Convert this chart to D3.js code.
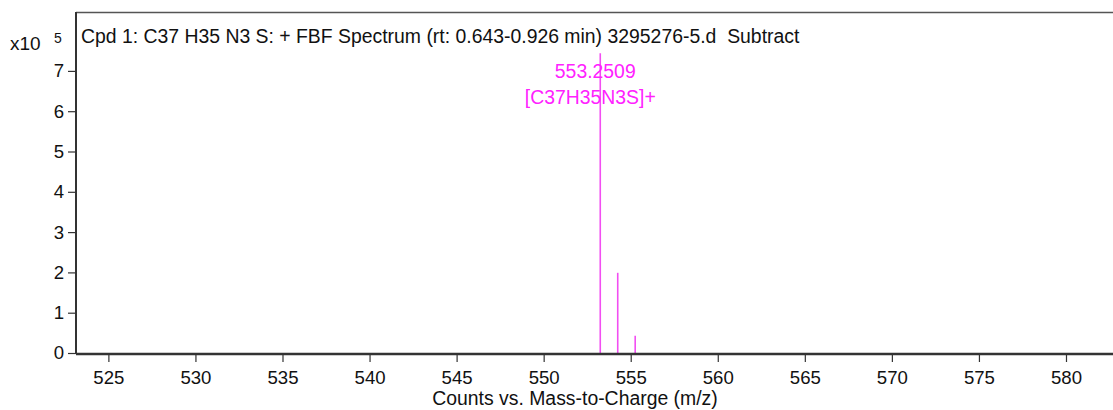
<!DOCTYPE html>
<html>
<head>
<meta charset="utf-8">
<script src="https://cdn.jsdelivr.net/npm/d3@7/dist/d3.min.js"></script>
<style>
  html, body { margin: 0; padding: 0; background: #fff; }
  svg { display: block; font-family: "Liberation Sans", Arial, sans-serif; }
</style>
</head>
<body>
<svg id="chart" width="1113" height="410"></svg>
<script>
// Spectrum peaks (m/z, counts in units of 10^5)
const peakMz = [553.2509, 554.254, 555.257];
const peakCounts = [7.44, 1.99, 0.43];
const xTicks = [525, 530, 535, 540, 545, 550, 555, 560, 565, 570, 575, 580];
const yTicks = [0, 1, 2, 3, 4, 5, 6, 7];
const title = "Cpd 1: C37 H35 N3 S: + FBF Spectrum (rt: 0.643-0.926 min) 3295276-5.d  Subtract";
const peakLabels = ["553.2509", "[C37H35N3S]+"];
const xTitle = "Counts vs. Mass-to-Charge (m/z)";

const svg = d3.select("#chart");
const plotLeft = 76, plotTop = 12, plotBottom = 353, plotRight = 1113;

const x = d3.scaleLinear().domain([523.14, 582.7]).range([plotLeft, plotRight]);
const y = d3.scaleLinear().domain([0, (plotBottom - plotTop) / 40.3]).range([plotBottom, plotTop]);

const axisColor = "#333";
const textColor = "#111";
const peakColor = "#f24ef2";
const labelColor = "#ff22ff";
const font = "Liberation Sans, Arial, sans-serif";

// Top frame line
svg.append("line")
  .attr("x1", plotLeft).attr("x2", plotRight)
  .attr("y1", plotTop + 0.5).attr("y2", plotTop + 0.5)
  .attr("stroke", "#555").attr("stroke-width", 1.5);

// Peaks as vertical sticks
svg.append("g").selectAll("line")
  .data(peakMz.map((m, i) => ({ m, c: peakCounts[i] })))
  .join("line")
  .attr("x1", d => x(d.m)).attr("x2", d => x(d.m))
  .attr("y1", y(0)).attr("y2", d => y(d.c))
  .attr("stroke", peakColor).attr("stroke-width", 1.6);

// Y axis
const yAxis = svg.append("g")
  .attr("transform", `translate(${plotLeft},0)`)
  .call(d3.axisLeft(y).tickValues(yTicks).tickSize(8).tickPadding(4).tickFormat(d3.format("d")));
yAxis.select(".domain").attr("stroke", axisColor).attr("stroke-width", 2)
  .attr("d", `M0,${plotTop}V${plotBottom}`);
yAxis.selectAll(".tick line").attr("stroke", axisColor).attr("stroke-width", 1.2);
yAxis.selectAll(".tick text").attr("fill", textColor).attr("font-size", 18.6)
  .attr("font-family", font);

// X axis
const xAxis = svg.append("g")
  .attr("transform", `translate(0,${plotBottom + 1})`)
  .call(d3.axisBottom(x).tickValues(xTicks).tickSize(8).tickPadding(9).tickFormat(d3.format("d")));
xAxis.select(".domain").attr("stroke", axisColor).attr("stroke-width", 2.6)
  .attr("d", `M${plotLeft},0H${plotRight}`);
xAxis.selectAll(".tick line").attr("stroke", axisColor).attr("stroke-width", 1.2);
xAxis.selectAll(".tick text").attr("fill", textColor).attr("font-size", 18.6)
  .attr("font-family", font);

// Axis title
svg.append("text")
  .attr("x", 575).attr("y", 405)
  .attr("text-anchor", "middle")
  .attr("font-size", 19.4).attr("fill", textColor)
  .text(xTitle);

// Scale exponent marker
svg.append("text").attr("x", 10).attr("y", 50)
  .attr("font-size", 19).attr("fill", textColor).text("x10");
svg.append("text").attr("x", 54).attr("y", 43)
  .attr("font-size", 14).attr("fill", textColor).text("5");

// Title inside the plot area
svg.append("text").attr("x", 81).attr("y", 43)
  .attr("font-size", 19.4).attr("fill", textColor)
  .style("white-space", "pre")
  .text(title);

// Peak annotation
const labelX = [x(peakMz[0]) - 5, x(peakMz[0]) - 10];
svg.append("g").selectAll("text")
  .data(peakLabels)
  .join("text")
  .attr("x", (d, i) => labelX[i])
  .attr("y", (d, i) => 78 + i * 26)
  .attr("text-anchor", "middle")
  .attr("font-size", 19.4)
  .attr("fill", labelColor)
  .text(d => d);
</script>
</body>
</html>
